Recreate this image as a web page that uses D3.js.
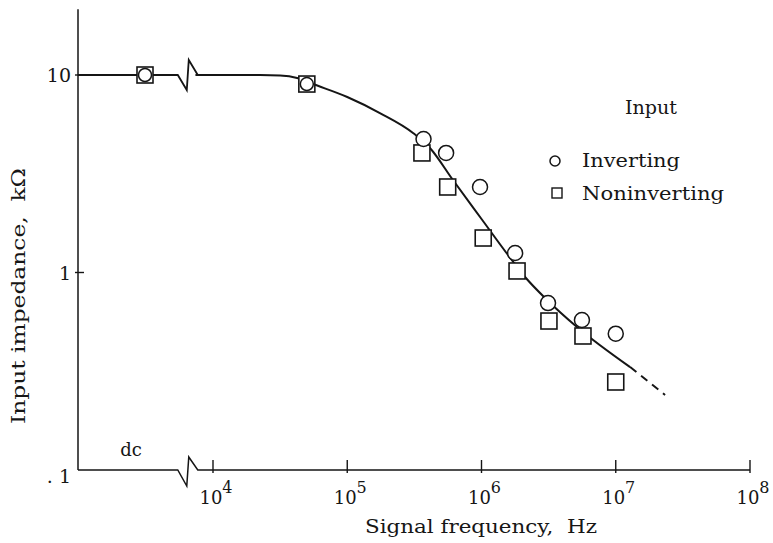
<!DOCTYPE html>
<html><head><meta charset="utf-8">
<script src="https://cdn.jsdelivr.net/npm/d3@7"></script>
<style>
body{margin:0;background:#fff}
svg{display:block}
text{font-family:"DejaVu Serif",serif;fill:#161616;white-space:pre}
</style>
</head><body>
<svg id="c" width="773" height="543"></svg>
<script>
// ---- data ----
const dcCategory = ["dc"];
const xTickValues = [1e4, 1e5, 1e6, 1e7, 1e8];
const xTickExponents = ["4", "5", "6", "7", "8"];
const yTickValues = [10, 1, 0.1];
const yTickLabels = ["10", "1", ". 1"];

const invertingFreq = ["dc", 5.0e4, 3.7e5, 5.45e5, 9.75e5, 1.78e6, 3.13e6, 5.6e6, 1.0e7];
const invertingVal  = [10, 9.0, 4.74, 4.03, 2.71, 1.255, 0.70, 0.575, 0.49];

const noninvFreq = ["dc", 5.0e4, 3.6e5, 5.6e5, 1.03e6, 1.84e6, 3.18e6, 5.7e6, 1.0e7];
const noninvVal  = [10, 9.0, 4.03, 2.71, 1.495, 1.018, 0.568, 0.477, 0.279];

const curveFreq = [7.4e3, 2.24e4, 3.16e4, 4.23e4, 5.56e4, 1.0e5, 1.75e5, 3.09e5, 4.13e5, 6.13e5, 1.01e6, 1.57e6, 2.11e6, 3.08e6, 5.14e6, 1.28e7];
const curveVal  = [10, 10, 9.94, 9.66, 9.0, 7.74, 6.42, 5.09, 4.27, 2.94, 1.85, 1.23, 0.949, 0.726, 0.530, 0.332];
const dashFreq = [1.28e7, 2.33e7];
const dashVal  = [0.332, 0.240];

const breakFreq = 6.6e3;
const legendTitle = "Input";
const legendLabels = ["Inverting", "Noninverting"];
const xTitle = "Signal frequency,  Hz";
const yTitle = "Input impedance,  k\u03A9";

// ---- scales ----
const svg = d3.select("#c");
const x = d3.scaleLog().domain([1e4, 1e8]).range([213, 750]);
const xDc = d3.scaleBand().domain(dcCategory).range([78, 212]);
const y = d3.scaleLog().domain([0.1, 10]).range([470, 75]);
const px = f => f === "dc" ? xDc(f) + xDc.bandwidth() / 2 : x(f);
const x0 = xDc.range()[0];
const y0 = y(0.1);
const bx = x(breakFreq);

const ink = "#151515";
const g = svg.append("g");

// ---- axes ----
g.append("line").attr("x1", x0).attr("x2", x0).attr("y1", y0).attr("y2", y(21.5))
  .attr("stroke", ink).attr("stroke-width", 1.5);
g.selectAll(".yt").data(yTickValues.filter(v => v > 0.1)).enter().append("line")
  .attr("x1", x0 - 3).attr("x2", x0 + 6).attr("y1", d => y(d)).attr("y2", d => y(d))
  .attr("stroke", ink).attr("stroke-width", 1.4);
g.selectAll(".yl").data(yTickValues).enter().append("text")
  .attr("x", x0 - 7).attr("y", (d, i) => y(d) + (d === 0.1 ? 13 : 7))
  .attr("text-anchor", "end").attr("font-size", 19)
  .text((d, i) => yTickLabels[i]);

const zig = [[-11, 0], [-2, 16], [0, -13], [9, 0]];
const axisPath = d3.path();
axisPath.moveTo(x0, y0);
zig.forEach(([dx, dy]) => axisPath.lineTo(bx + dx, y0 + dy));
axisPath.lineTo(x(1e8), y0);
g.append("path").attr("d", axisPath.toString()).attr("fill", "none")
  .attr("stroke", ink).attr("stroke-width", 1.5);
g.selectAll(".xt").data(xTickValues).enter().append("line")
  .attr("x1", d => x(d)).attr("x2", d => x(d)).attr("y1", y0 - 10).attr("y2", y0 + 3)
  .attr("stroke", ink).attr("stroke-width", 1.4);
const xl = g.selectAll(".xl").data(xTickValues).enter().append("text")
  .attr("x", d => x(d) + 3).attr("y", y0 + 34).attr("text-anchor", "middle").attr("font-size", 18);
xl.append("tspan").text("10");
xl.append("tspan").attr("dy", -11).attr("font-size", 16).text((d, i) => xTickExponents[i]);

g.append("text").attr("x", xDc("dc") + xDc.bandwidth() / 2 - 14).attr("y", y0 - 14)
  .attr("text-anchor", "middle").attr("font-size", 18).text(dcCategory[0]);

g.append("text").attr("x", 481).attr("y", 533).attr("text-anchor", "middle")
  .attr("font-size", 18).attr("textLength", 232).attr("lengthAdjust", "spacingAndGlyphs").text(xTitle);
g.append("text").attr("transform", "translate(25,296) rotate(-90)").attr("text-anchor", "middle")
  .attr("font-size", 19).attr("textLength", 256).attr("lengthAdjust", "spacingAndGlyphs").text(yTitle);

// ---- curve ----
const line = d3.line().x(d => x(d[0])).y(d => y(d[1])).curve(d3.curveMonotoneX);
const topZig = [0, 15, -15, 0];
const topPath = d3.path();
topPath.moveTo(x0, y(10));
zig.forEach(([dx], i) => topPath.lineTo(bx + dx, y(10) + topZig[i]));
g.append("path").attr("d", topPath.toString()).attr("fill", "none").attr("stroke", ink).attr("stroke-width", 1.8);
g.append("path").datum(curveFreq.map((f, i) => [f, curveVal[i]])).attr("d", line)
  .attr("fill", "none").attr("stroke", ink).attr("stroke-width", 2);
g.append("path").datum(dashFreq.map((f, i) => [f, dashVal[i]])).attr("d", line)
  .attr("fill", "none").attr("stroke", ink).attr("stroke-width", 2).attr("stroke-dasharray", "8,6");

// ---- markers ----
const sq = 16;
g.selectAll(".sq").data(noninvFreq.map((f, i) => [f, noninvVal[i]])).enter().append("rect")
  .attr("x", d => px(d[0]) - sq / 2).attr("y", d => y(d[1]) - sq / 2)
  .attr("width", sq).attr("height", sq)
  .attr("fill", "#fff").attr("stroke", ink).attr("stroke-width", 1.6);
g.selectAll(".ci").data(invertingFreq.map((f, i) => [f, invertingVal[i]])).enter().append("circle")
  .attr("cx", d => px(d[0])).attr("cy", d => y(d[1])).attr("r", (d, i) => i < 2 ? 6.5 : 7.5)
  .attr("fill", (d, i) => i < 2 ? "none" : "#fff").attr("stroke", ink).attr("stroke-width", 1.5);

// ---- legend ----
g.append("text").attr("x", 625).attr("y", 114).attr("font-size", 18)
  .attr("textLength", 52).attr("lengthAdjust", "spacingAndGlyphs").text(legendTitle);
g.append("circle").attr("cx", 555).attr("cy", 161).attr("r", 5)
  .attr("fill", "none").attr("stroke", ink).attr("stroke-width", 1.5);
g.append("rect").attr("x", 552).attr("y", 188).attr("width", 10).attr("height", 10)
  .attr("fill", "none").attr("stroke", ink).attr("stroke-width", 1.4);
g.append("text").attr("x", 582).attr("y", 167).attr("font-size", 18)
  .attr("textLength", 98).attr("lengthAdjust", "spacingAndGlyphs").text(legendLabels[0]);
g.append("text").attr("x", 582).attr("y", 200).attr("font-size", 18)
  .attr("textLength", 142).attr("lengthAdjust", "spacingAndGlyphs").text(legendLabels[1]);
</script>
</body></html>
